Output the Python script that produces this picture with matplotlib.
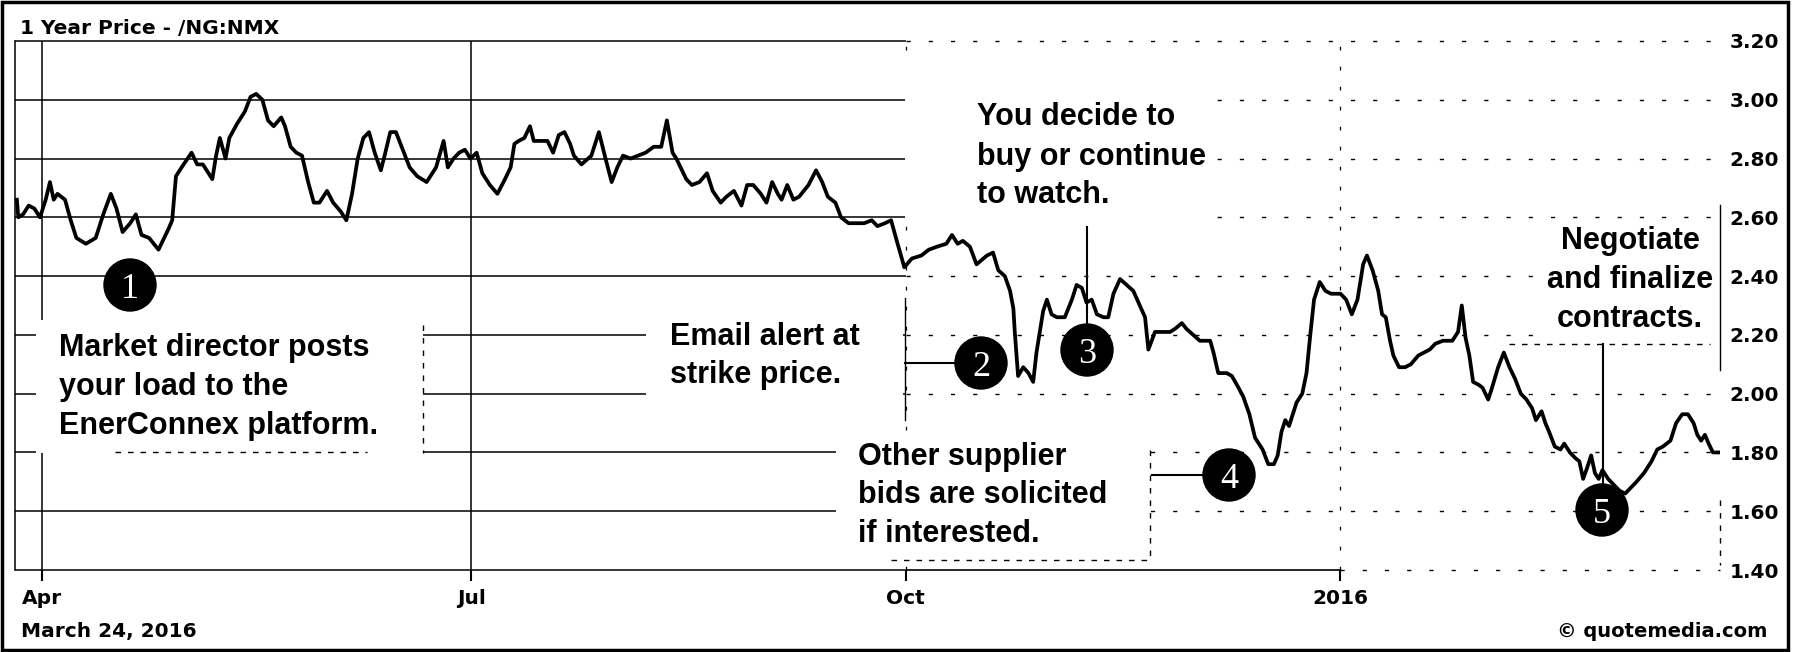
import numpy as np
import pandas as pd
import matplotlib
matplotlib.use("Agg")
import matplotlib.pyplot as plt
import matplotlib.dates as mdates
from matplotlib.patches import Ellipse, Rectangle
from matplotlib.lines import Line2D

# NG:NMX front month: days after 1 Apr 2015 and price
day_offsets = [
    -5.3, -5.0, -4.0, -2.8, -1.6, -0.4, 0.8, 1.7, 2.5, 3.3, 4.1, 4.9, 6.1, 7.3, 9.3, 11.4,
    13.0, 14.6, 15.8, 17.1, 18.7, 19.9, 21.1, 22.7, 24.7, 26.8, 27.6, 28.4, 29.6, 31.7, 32.9,
    34.1, 36.1, 36.9, 37.7, 38.9, 39.7, 41.4, 42.2, 43.0, 44.2, 45.4, 46.7, 47.9, 49.1, 50.7,
    51.5, 52.7, 53.9, 55.1, 56.4, 57.6, 58.8, 60.4, 61.7, 63.3, 64.5, 65.7, 66.9, 68.1, 69.3,
    70.5, 71.8, 72.6, 73.8, 75.0, 76.2, 77.9, 79.5, 81.5, 83.5, 85.1, 86.0, 87.2, 88.4, 89.6,
    90.8, 92.1, 93.3, 94.9, 96.5, 98.1, 99.3, 100.1, 101.0, 102.2, 103.4, 104.2, 105.4, 107.1,
    108.3, 109.5, 110.7, 111.9, 112.7, 114.3, 116.4, 118.0, 119.4, 120.7, 121.9, 123.1, 124.7,
    126.3, 127.9, 129.6, 131.2, 132.4, 133.6, 134.4, 136.5, 137.7, 139.3, 140.9, 142.1, 143.8,
    145.0, 146.6, 148.2, 149.4, 150.7, 152.3, 153.5, 154.7, 155.9, 156.7, 157.9, 159.2, 160.4,
    162.4, 164.0, 165.3, 166.5, 168.1, 169.3, 170.9, 172.5, 174.2, 175.8, 177.0, 178.6, 179.9,
    181.1, 182.7, 184.3, 186.3, 187.9, 189.6, 191.6, 192.8, 194.0, 195.1, 196.6, 198.0, 200.2,
    201.5, 202.6, 204.0, 205.1, 205.8, 206.1, 206.8, 207.9, 209.0, 210.0, 210.7, 211.4, 212.1,
    212.9, 213.9, 215.0, 216.7, 218.2, 219.2, 220.3, 221.3, 222.4, 223.5, 224.9, 225.9, 227.0,
    228.4, 229.8, 231.2, 232.6, 233.7, 234.4, 235.1, 235.8, 237.2, 239.0, 240.0, 241.5, 242.5,
    243.9, 245.3, 246.4, 247.5, 248.2, 249.2, 251.0, 252.1, 253.5, 254.5, 255.8, 257.0, 258.6,
    259.8, 261.0, 261.8, 262.6, 263.4, 264.2, 265.0, 265.8, 267.0, 267.9, 268.7, 269.5, 270.7,
    271.9, 273.1, 275.1, 276.3, 277.5, 278.7, 279.9, 280.7, 281.9, 283.1, 283.9, 284.7, 285.6,
    286.3, 287.5, 288.8, 290.0, 291.6, 292.8, 294.0, 295.2, 296.8, 298.8, 300.0, 300.8, 301.6,
    302.4, 303.2, 304.4, 305.2, 306.4, 307.2, 308.5, 309.7, 310.9, 312.1, 313.3, 314.5, 315.7,
    316.5, 317.7, 318.5, 319.3, 320.5, 321.7, 322.5, 323.7, 324.9, 325.7, 326.5, 327.4, 328.2,
    329.0, 329.8, 330.6, 331.8, 333.0, 334.2, 335.4, 336.6, 337.8, 339.4, 341.0, 342.2, 343.4,
    345.0, 346.2, 347.5, 348.7, 349.9, 350.7, 351.5, 352.3, 353.1, 354.0, 355.1,
]
prices = [
    2.66, 2.60, 2.61, 2.64, 2.63, 2.60, 2.66, 2.72, 2.66, 2.68, 2.67, 2.66, 2.59, 2.53, 2.51, 2.53,
    2.61, 2.68, 2.63, 2.55, 2.58, 2.61, 2.54, 2.53, 2.49, 2.56, 2.59, 2.74, 2.77, 2.82, 2.78,
    2.78, 2.73, 2.81, 2.87, 2.80, 2.87, 2.92, 2.94, 2.96, 3.01, 3.02, 3.00, 2.93, 2.91, 2.94,
    2.91, 2.84, 2.82, 2.81, 2.72, 2.65, 2.65, 2.69, 2.65, 2.62, 2.59, 2.68, 2.80, 2.87, 2.89,
    2.82, 2.76, 2.81, 2.89, 2.89, 2.84, 2.77, 2.74, 2.72, 2.77, 2.86, 2.77, 2.80, 2.82, 2.83,
    2.80, 2.82, 2.75, 2.71, 2.68, 2.73, 2.77, 2.85, 2.86, 2.87, 2.91, 2.86, 2.86, 2.86,
    2.82, 2.88, 2.89, 2.85, 2.81, 2.78, 2.81, 2.89, 2.80, 2.72, 2.77, 2.81, 2.80,
    2.81, 2.82, 2.84, 2.84, 2.93, 2.82, 2.80, 2.73, 2.71, 2.72, 2.75, 2.69, 2.65,
    2.67, 2.69, 2.64, 2.71, 2.71, 2.68, 2.65, 2.72, 2.68, 2.66, 2.71, 2.66, 2.67,
    2.71, 2.76, 2.72, 2.67, 2.65, 2.60, 2.58, 2.58, 2.58, 2.59, 2.57, 2.58, 2.59,
    2.52, 2.43, 2.46, 2.47, 2.49, 2.50, 2.51, 2.54, 2.51, 2.52, 2.50, 2.44, 2.47,
    2.48, 2.42, 2.40, 2.35, 2.29, 2.21, 2.06, 2.09, 2.07, 2.04, 2.14, 2.21, 2.28,
    2.32, 2.27, 2.26, 2.26, 2.32, 2.37, 2.36, 2.31, 2.32, 2.27, 2.26, 2.26, 2.34,
    2.39, 2.37, 2.35, 2.30, 2.26, 2.15, 2.18, 2.21, 2.21, 2.21, 2.22, 2.24, 2.22,
    2.20, 2.18, 2.18, 2.18, 2.14, 2.07, 2.07, 2.06, 2.02, 1.99, 1.93, 1.85, 1.81,
    1.76, 1.76, 1.79, 1.87, 1.91, 1.89, 1.93, 1.97, 2.00, 2.07, 2.20, 2.32, 2.38,
    2.35, 2.34, 2.34, 2.32, 2.27, 2.32, 2.44, 2.47, 2.42, 2.35, 2.27, 2.26, 2.18,
    2.13, 2.09, 2.09, 2.10, 2.13, 2.14, 2.15, 2.17, 2.18, 2.18, 2.21, 2.30, 2.19,
    2.13, 2.04, 2.03, 2.02, 1.98, 2.02, 2.09, 2.14, 2.09, 2.05, 2.00, 1.98, 1.95,
    1.91, 1.94, 1.90, 1.87, 1.82, 1.81, 1.83, 1.80, 1.78, 1.77, 1.71, 1.75, 1.79,
    1.73, 1.71, 1.74, 1.71, 1.69, 1.67, 1.66, 1.68, 1.70, 1.73, 1.77, 1.81, 1.82,
    1.84, 1.90, 1.93, 1.93, 1.90, 1.86, 1.84, 1.86, 1.83, 1.80, 1.80,
]

tick_dates = ["2015-04-01", "2015-07-01", "2015-10-01", "2016-01-01"]
tick_labels = ["Apr", "Jul", "Oct", "2016"]
price_ticks = [1.40, 1.60, 1.80, 2.00, 2.20, 2.40, 2.60, 2.80, 3.00, 3.20]
price_labels = ["1.40", "1.60", "1.80", "2.00", "2.20", "2.40", "2.60", "2.80", "3.00", "3.20"]

title = "1 Year Price - /NG:NMX"
as_of = "March 24, 2016"
credit = "\u00a9 quotemedia.com"

step_numbers = ["1", "2", "3", "4", "5"]
step_notes = [
    ["Market director posts", "your load to the", "EnerConnex platform."],
    ["Email alert at", "strike price."],
    ["You decide to", "buy or continue", "to watch."],
    ["Other supplier", "bids are solicited", "if interested."],
    ["Negotiate", "and finalize", "contracts."],
]

# ---- layout (pixels of the 1795x652 picture) ----
W, H = 1795, 652
fig = plt.figure(figsize=(W / 100, H / 100), dpi=100)


def fx(px):
    return px / W


def fy(py):
    return 1 - py / H


ax = fig.add_axes([fx(15), fy(570), (1720 - 15) / W, (570 - 41) / H])
tf = fig.transFigure

start = pd.Timestamp("2015-04-01")
x = mdates.date2num(start + pd.to_timedelta(day_offsets, unit="D"))
month_x = mdates.date2num(pd.to_datetime(tick_dates))
x0 = mdates.date2num(start - pd.Timedelta(days=5.7))
x1 = mdates.date2num(start + pd.Timedelta(days=355.5))
ax.set_xlim(x0, x1)
ax.set_ylim(price_ticks[0], price_ticks[-1])

# grid: solid on the left half, broken up on the right like the scan
dash = (0, (3, 13))
ax.hlines(price_ticks, x0, month_x[2], color="black", lw=1.1, zorder=1, clip_on=False)
ax.hlines(price_ticks[1:], month_x[2], x1, color="black", lw=1.0, ls=dash, zorder=1, clip_on=False)
ax.hlines(price_ticks[0], month_x[2], month_x[3], color="black", lw=1.2, zorder=1, clip_on=False)
ax.hlines(price_ticks[0], month_x[3], x1, color="black", lw=1.0, ls=dash, zorder=1, clip_on=False)
ax.vlines(month_x[:2], price_ticks[0], price_ticks[-1], color="black", lw=1.1, zorder=1)
ax.vlines(month_x[2:], price_ticks[0], price_ticks[-1], color="black", lw=0.9, ls=dash, zorder=1)

for side in ["top", "right", "bottom"]:
    ax.spines[side].set_visible(False)
ax.spines["left"].set_linewidth(1.1)

# white panels behind the notes
panels = [(36, 320, 423, 453), (646, 298, 903, 402), (836, 440, 1150, 562),
          (905, 58, 1200, 224), (1535, 222, 1716, 343)]
for l, t, r, b in panels:
    ax.add_patch(Rectangle((fx(l), fy(b)), (r - l) / W, (b - t) / H, transform=tf,
                           facecolor="white", edgecolor="none", zorder=1.5, clip_on=False))

# panel edges left over in the scan
edges = [((423, 325), (423, 453), "--"), ((115, 452), (367, 452), "--"),
         ((1150, 450), (1150, 560), "--"), ((891, 560), (1150, 560), "--"),
         ((1509, 344), (1710, 344), "--"), ((905, 298), (905, 420), "-"),
         ((1720, 205), (1720, 370), "-"), ((1720, 500), (1720, 565), "--")]
for (xa, ya), (xb, yb), ls in edges:
    ax.add_line(Line2D([fx(xa), fx(xb)], [fy(ya), fy(yb)], transform=tf, color="black",
                       lw=1.0, ls=ls, dashes=(4, 5) if ls == "--" else (None, None),
                       zorder=1.6, clip_on=False))

ax.plot(x, prices, color="black", lw=2.7, solid_joinstyle="round", zorder=3)

# axis ticks and labels
ax.set_xticks(month_x)
ax.set_xticklabels(tick_labels)
ax.tick_params(axis="x", direction="out", length=8, width=1.5, pad=6,
               labelsize=14.5, labelcolor="black")
ax.yaxis.tick_right()
ax.set_yticks(price_ticks)
ax.set_yticklabels(price_labels)
ax.tick_params(axis="y", length=0, pad=7, labelsize=14.5)
for lab in ax.get_xticklabels() + ax.get_yticklabels():
    lab.set_fontweight("bold")
    lab.set_family("DejaVu Sans")

# step markers and connectors
centers = [(130, 285), (981, 363), (1087, 350), (1229, 475), (1602, 510)]
r = 26
connectors = [((905, 363), (955, 363)), ((1087, 227), (1087, 324)),
              ((1152, 475), (1203, 475)), ((1603, 344), (1603, 484))]
for (xa, ya), (xb, yb) in connectors:
    ax.add_line(Line2D([fx(xa), fx(xb)], [fy(ya), fy(yb)], transform=tf, color="black",
                       lw=1.5, zorder=3.5, clip_on=False))
for num, (cx, cy) in zip(step_numbers, centers):
    ax.add_patch(Ellipse((fx(cx), fy(cy)), 2 * r / W, 2 * r / H, transform=tf,
                         facecolor="black", edgecolor="black", zorder=4, clip_on=False))
    ax.text(fx(cx), fy(cy + 13), num, transform=tf, color="white", ha="center",
            va="baseline", fontsize=26, family="Liberation Serif", zorder=5)

# notes: left x (or centre), baselines
note_x = [59, 670, 977, 858, 1630]
note_align = ["left", "left", "left", "left", "center"]
note_baselines = [[356, 395, 434], [345, 383], [125, 165, 203], [465, 503, 542], [249, 288, 327]]
for lines, nx, ha, bases in zip(step_notes, note_x, note_align, note_baselines):
    for line, by in zip(lines, bases):
        ax.text(fx(nx), fy(by), line, transform=tf, ha=ha, va="baseline", fontsize=22,
                fontweight="bold", family="Liberation Sans", zorder=5)

fig.text(fx(20), fy(34), title, ha="left", va="baseline", fontsize=14.5,
         fontweight="bold", family="DejaVu Sans")
fig.text(fx(21), fy(637), as_of, ha="left", va="baseline", fontsize=14.5,
         fontweight="bold", family="DejaVu Sans")
fig.text(fx(1767), fy(637), credit, ha="right", va="baseline", fontsize=14,
         fontweight="bold", family="DejaVu Sans")

# outer frame
fig.add_artist(Rectangle((fx(2), fy(650)), (1788 - 2) / W, (650 - 2) / H, transform=tf,
                         fill=False, edgecolor="black", lw=2.5))

fig.savefig("out.png", dpi=100, facecolor="white")
